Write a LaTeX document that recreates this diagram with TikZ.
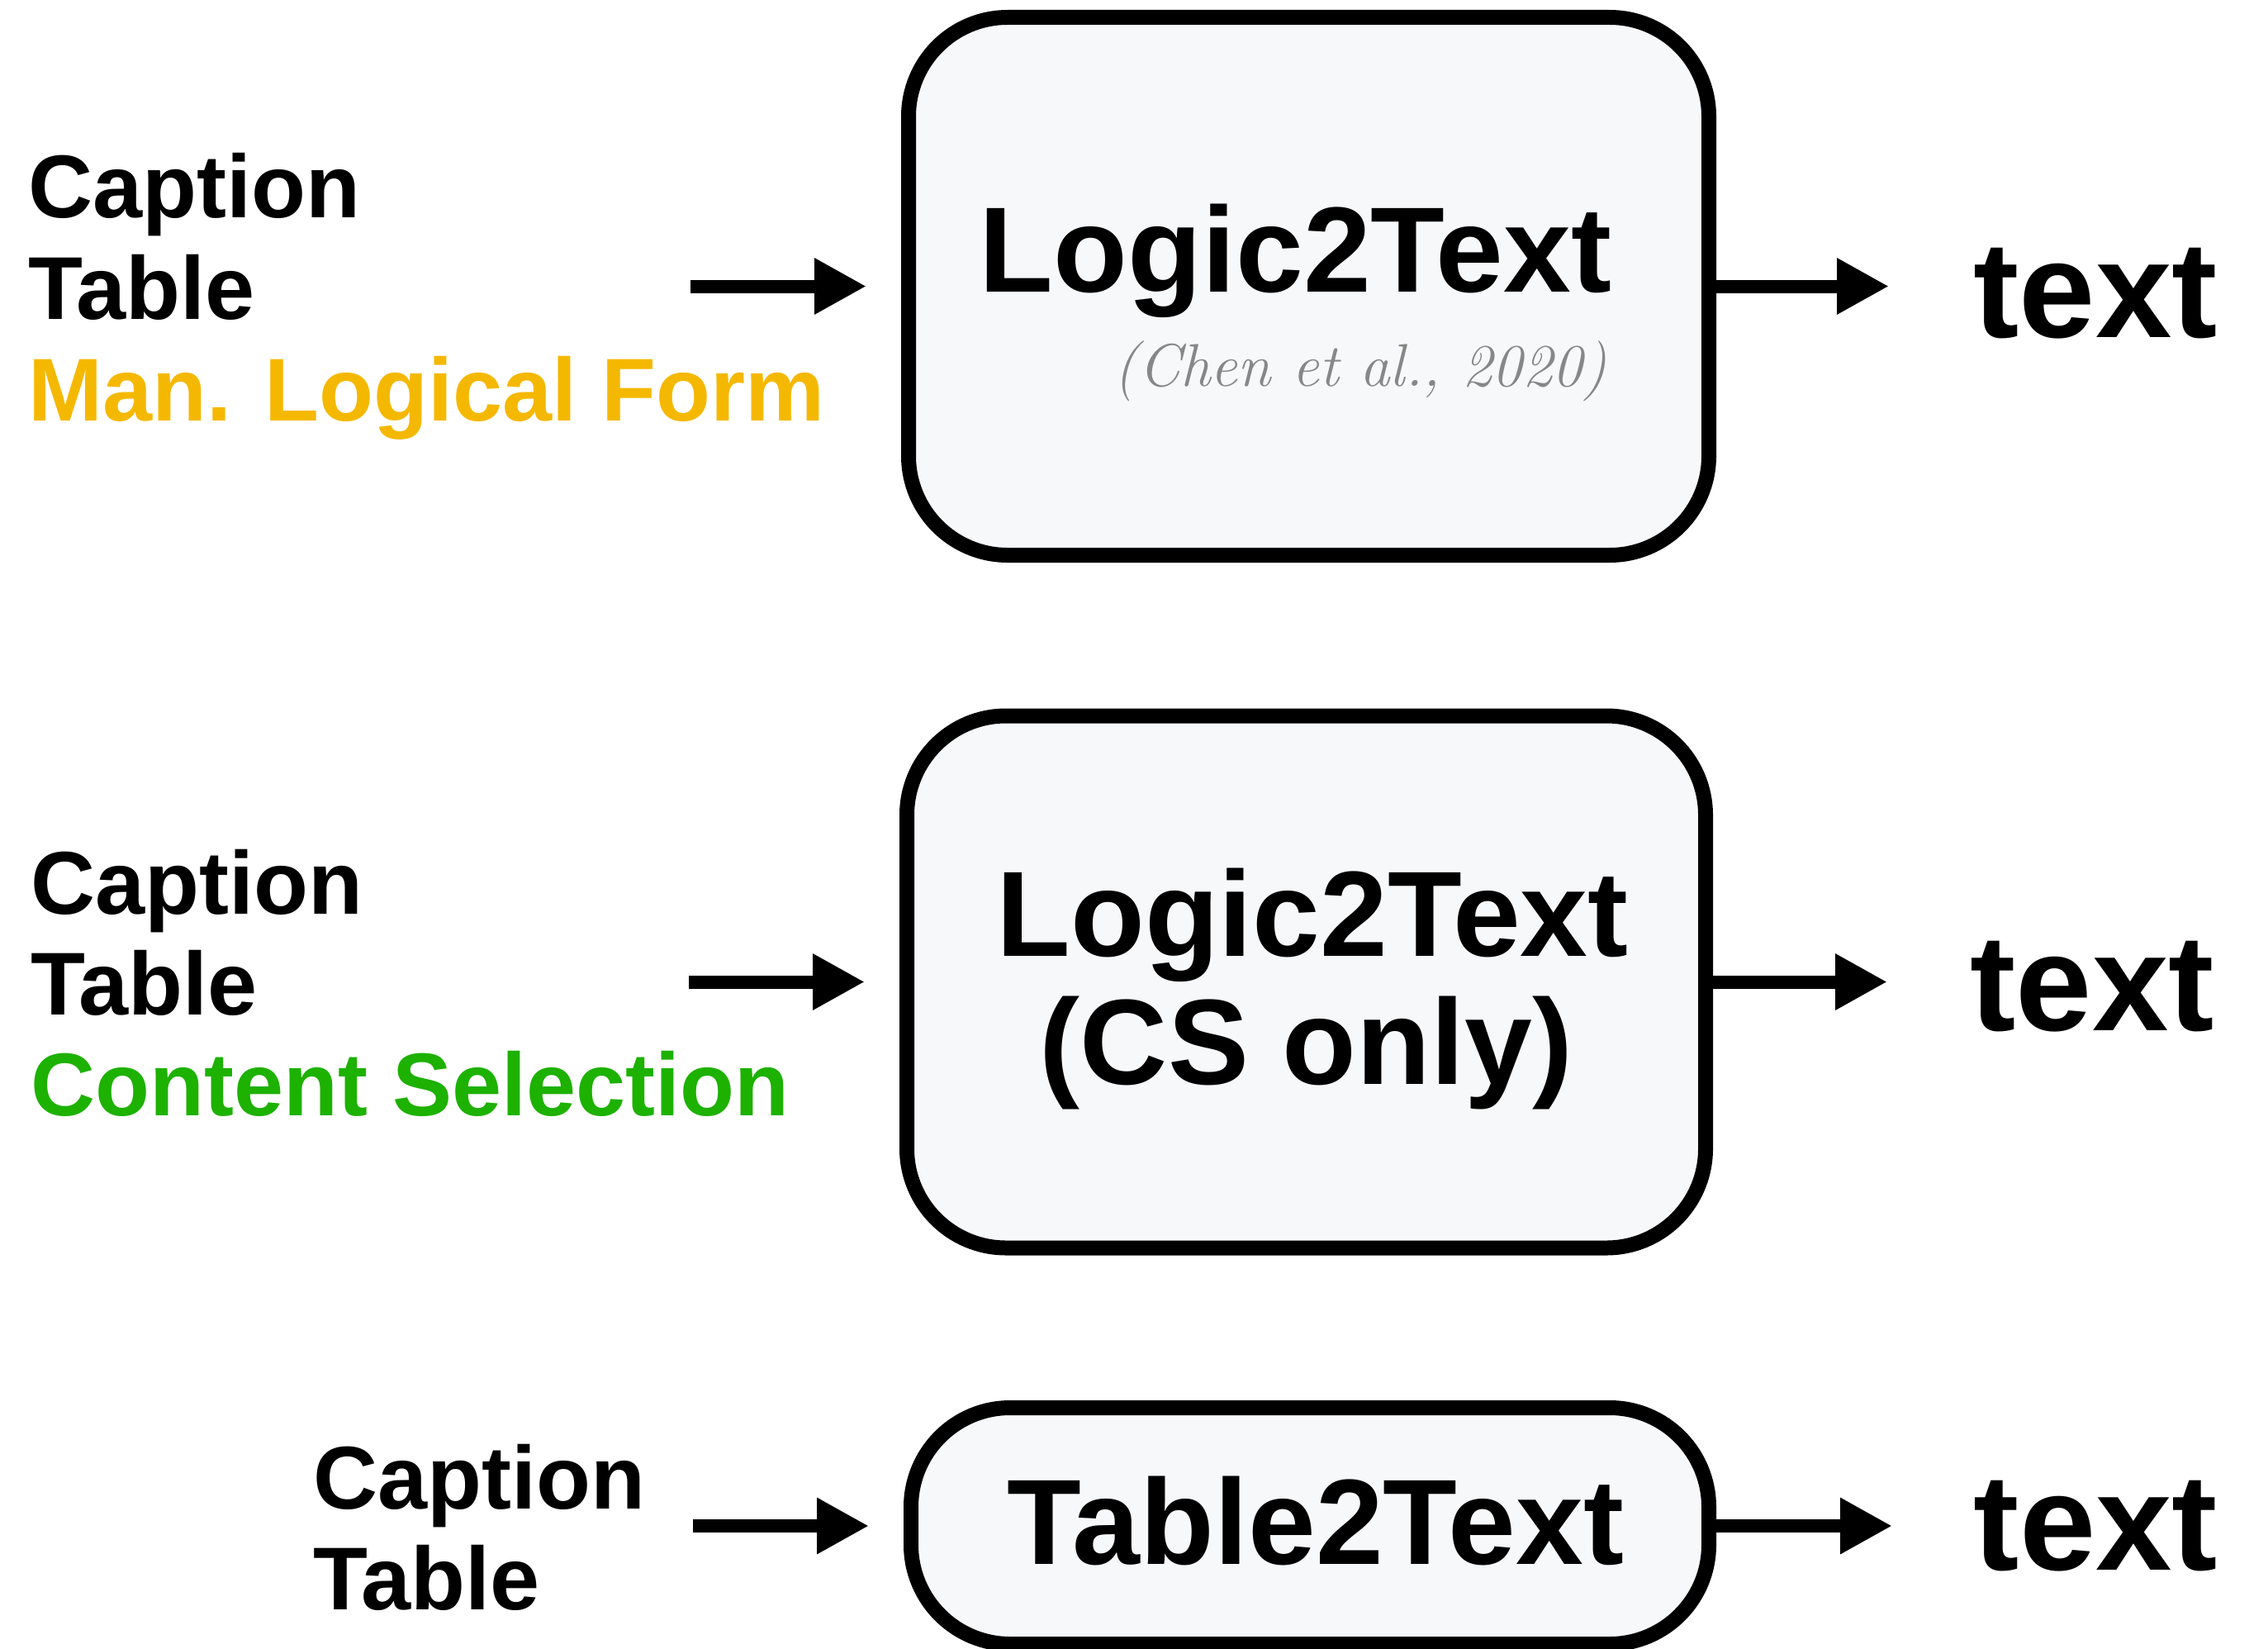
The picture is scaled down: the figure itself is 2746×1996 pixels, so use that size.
\documentclass[tikz,border=0pt]{standalone}
\usepackage{fontspec}
\newfontfamily\hv{Liberation Sans}
\usetikzlibrary{arrows.meta}

\definecolor{formyellow}{RGB}{245,184,0}
\definecolor{selgreen}{RGB}{29,177,0}
\definecolor{boxfill}{RGB}{247,248,250}
\definecolor{citegray}{RGB}{135,135,135}

\begin{document}
\begin{tikzpicture}[x=0.5pt,y=-0.5pt,
  modelbox/.style={draw=black, line width=9pt, fill=boxfill, rounded corners=60pt, inner sep=0pt},
  inlabel/.style={anchor=base west, inner sep=0pt, font=\hv\bfseries\fontsize{54pt}{62pt}\selectfont},
  modeltext/.style={anchor=base, inner sep=0pt, font=\hv\bfseries\fontsize{73.5pt}{88pt}\selectfont},
  outtext/.style={anchor=base west, inner sep=0pt, font=\hv\bfseries\fontsize{83pt}{100pt}\selectfont},
  citetext/.style={anchor=base east, inner sep=0pt, text=citegray, font=\itshape\fontsize{36.5pt}{44pt}\selectfont},
  flow/.style={line width=8pt, -{Triangle[length=31.5pt,width=32pt]}},
]
\useasboundingbox (0,0) rectangle (2746,1996);

% ---- Logic2Text with manual logical form ----
\node[modelbox, minimum width=484.5pt, minimum height=325.5pt] (box1) at (1584.5,346.5) {};
\node[modeltext] (m1) at (1568.5,353.5) {Logic2Text};
\node[citetext] (c1) at (1946,467) {(Chen et al., 2020)};

\node[inlabel] (a1) at (34,263) {Caption};
\node[inlabel] (b1) at (34,386) {Table};
\node[inlabel, text=formyellow] (f1) at (34,509) {Man. Logical Form};
\node[outtext] (t1) at (2389,408) {text};

\coordinate (in1) at (836,346.5);
\coordinate (out1) at (2287,346.5);
\draw[flow, shorten >=21pt] (in1) -- (box1.west);
\draw[flow] (box1.east) -- (out1);

% ---- Logic2Text with content selection only ----
\node[modelbox, minimum width=483.5pt, minimum height=322pt] (box2) at (1581.5,1188.5) {};
\node[modeltext] (m2) at (1589,1157) {Logic2Text};
\node[modeltext] (m2b) at (1581.5,1312) {(CS only)};

\node[inlabel] (a2) at (37,1106) {Caption};
\node[inlabel] (b2) at (37,1228) {Table};
\node[inlabel, text=selgreen] (f2) at (37,1350) {Content Selection};
\node[outtext] (t2) at (2385,1247) {text};

\coordinate (in2) at (834,1188.5);
\coordinate (out2) at (2285,1188.5);
\draw[flow, shorten >=21pt] (in2) -- (box2.west);
\draw[flow] (box2.east) -- (out2);

% ---- Table2Text baseline ----
\node[modelbox, minimum width=483pt, minimum height=143pt] (box3) at (1586,1847) {};
\node[modeltext] (m3) at (1593,1893) {Table2Text};

\node[inlabel] (a3) at (379,1826) {Caption};
\node[inlabel] (b3) at (379,1948) {Table};
\node[outtext] (t3) at (2389.5,1900) {text};

\coordinate (in3) at (839,1847);
\coordinate (out3) at (2291,1847);
\draw[flow, shorten >=21pt] (in3) -- (box3.west);
\draw[flow] (box3.east) -- (out3);
\end{tikzpicture}
\end{document}
